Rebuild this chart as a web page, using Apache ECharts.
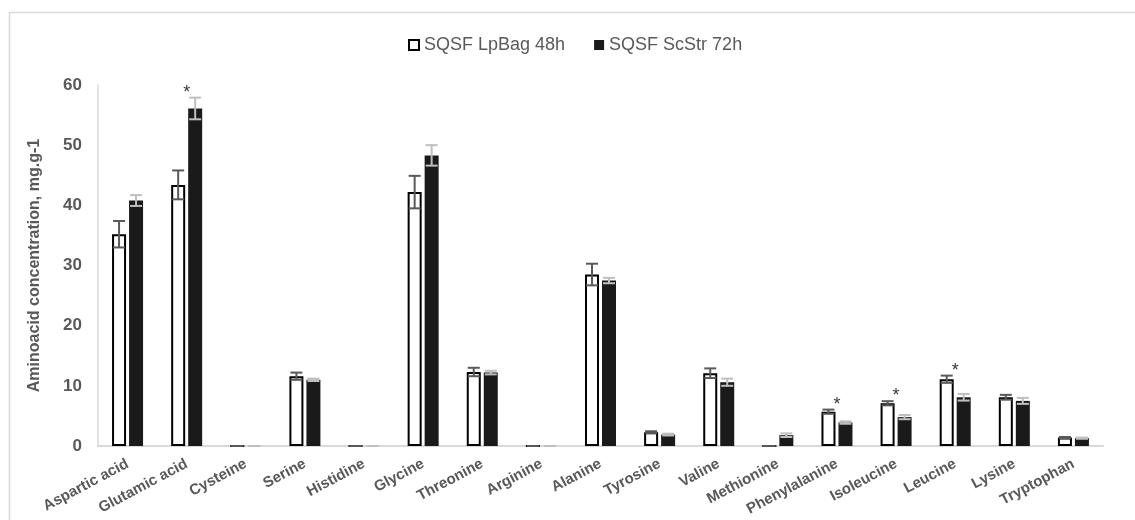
<!DOCTYPE html>
<html>
<head>
<meta charset="utf-8">
<script src="https://cdn.jsdelivr.net/npm/echarts@6/dist/echarts.min.js"></script>
<style>html,body{margin:0;padding:0;background:#fff;}#c{width:1135px;height:520px;}</style>
</head>
<body>
<div id="c"></div>
<script>
const categories = ['Aspartic acid','Glutamic acid','Cysteine','Serine','Histidine','Glycine','Threonine','Arginine','Alanine','Tyrosine','Valine','Methionine','Phenylalanine','Isoleucine','Leucine','Lysine','Tryptophan'];
const lpbag48 = [35.2, 43.4, 0, 11.6, 0, 42.2, 12.3, 0, 28.5, 2.3, 12.1, 0, 5.7, 7.1, 11.1, 8.1, 1.4];
const lpbag48Err = [2.2, 2.4, 0, 0.6, 0, 2.7, 0.7, 0, 1.8, 0.15, 0.8, 0, 0.35, 0.35, 0.6, 0.4, 0.1];
const scstr72 = [40.8, 56.1, 0, 11.0, 0, 48.3, 12.2, 0, 27.5, 1.9, 10.6, 1.8, 3.9, 4.8, 8.1, 7.5, 1.3];
const scstr72Err = [0.9, 1.8, 0, 0.2, 0, 1.7, 0.3, 0, 0.45, 0.15, 0.6, 0.3, 0.2, 0.35, 0.55, 0.5, 0.1];
const starCats = ['Glutamic acid','Phenylalanine','Isoleucine','Leucine'];
const starVals = [59.4, 7.5, 9.0, 13.1];
const seriesNames = ['SQSF LpBag 48h','SQSF ScStr 72h'];
const yTicks = [0, 10, 20, 30, 40, 50, 60];

const BAR_W = 14, GAP_PX = 3;
const half = (BAR_W + GAP_PX) / 2;
const FONT = '"Liberation Sans", Arial, sans-serif';

function errSeries(vals, errs, offset, color) {
  return {
    type: 'custom',
    z: 5,
    silent: true,
    data: vals.map((v, i) => [i, v, errs[i]]),
    encode: { x: 0, y: 1 },
    renderItem: function (params, api) {
      const i = api.value(0), v = api.value(1), e = api.value(2);
      const top = api.coord([i, v + e]);
      const bot = api.coord([i, v - e]);
      const x = top[0] + offset;
      const cap = 6;
      const style = { stroke: color, lineWidth: 2 };
      return {
        type: 'group',
        children: [
          { type: 'line', shape: { x1: x, y1: top[1], x2: x, y2: bot[1] }, style: style },
          { type: 'line', shape: { x1: x - cap, y1: top[1], x2: x + cap, y2: top[1] }, style: style },
          { type: 'line', shape: { x1: x - cap, y1: bot[1], x2: x + cap, y2: bot[1] }, style: style }
        ]
      };
    }
  };
}

const chart = echarts.init(document.getElementById('c'));
chart.setOption({
  backgroundColor: '#fff',
  animation: false,
  graphic: [{
    type: 'rect', left: 7, top: 10, silent: true,
    shape: { width: 1140, height: 520 },
    style: { fill: 'none', stroke: '#d9d9d9', lineWidth: 1.5 }
  }],
  legend: {
    left: 408, top: 36, padding: 0,
    itemWidth: 10, itemHeight: 10, itemGap: 29,
    textStyle: { fontFamily: FONT, fontSize: 18, color: '#595959' },
    data: [
      { name: seriesNames[0], icon: 'rect', itemStyle: { color: '#fff', borderColor: '#000', borderWidth: 2 } },
      { name: seriesNames[1], icon: 'rect', itemStyle: { color: '#1a1a1a', borderWidth: 0 } }
    ]
  },
  grid: { left: 98, right: 32, top: 85, bottom: 74, outerBoundsMode: 'none', containLabel: false },
  xAxis: {
    type: 'category',
    data: categories,
    axisLine: { show: true, lineStyle: { color: '#d9d9d9', width: 2 } },
    axisTick: { show: false },
    axisLabel: {
      interval: 0, rotate: 28, margin: 17,
      fontFamily: FONT, fontSize: 15, fontWeight: 'bold', color: '#595959'
    },
    splitLine: { show: false }
  },
  yAxis: {
    type: 'value',
    min: yTicks[0], max: yTicks[yTicks.length - 1], interval: yTicks[1] - yTicks[0],
    name: 'Aminoacid concentration, mg.g-1',
    nameLocation: 'middle', nameGap: 55,
    nameTextStyle: { fontFamily: FONT, fontSize: 16, fontWeight: 'bold', color: '#595959' },
    axisLine: { show: true, lineStyle: { color: '#d9d9d9', width: 1.5 } },
    axisTick: { show: false },
    splitLine: { show: false },
    axisLabel: { margin: 16, fontFamily: FONT, fontSize: 17, fontWeight: 'bold', color: '#595959' }
  },
  series: [
    {
      name: seriesNames[0], type: 'bar', data: lpbag48,
      barWidth: BAR_W, barGap: (GAP_PX / BAR_W * 100) + '%',
      itemStyle: { color: '#fff', borderColor: '#000', borderWidth: 2 }
    },
    {
      name: seriesNames[1], type: 'bar', data: scstr72,
      barWidth: BAR_W,
      itemStyle: { color: '#1a1a1a' }
    },
    errSeries(lpbag48, lpbag48Err, -half, '#595959'),
    errSeries(scstr72, scstr72Err, half, '#bfbfbf'),
    {
      type: 'scatter', silent: true, z: 6,
      symbolSize: 0,
      data: starCats.map((c, i) => [c, starVals[i]]),
      label: {
        show: true, position: 'inside', formatter: '*', offset: [0, 4],
        fontFamily: FONT, fontSize: 18, color: '#000'
      }
    }
  ]
});
</script>
</body>
</html>
